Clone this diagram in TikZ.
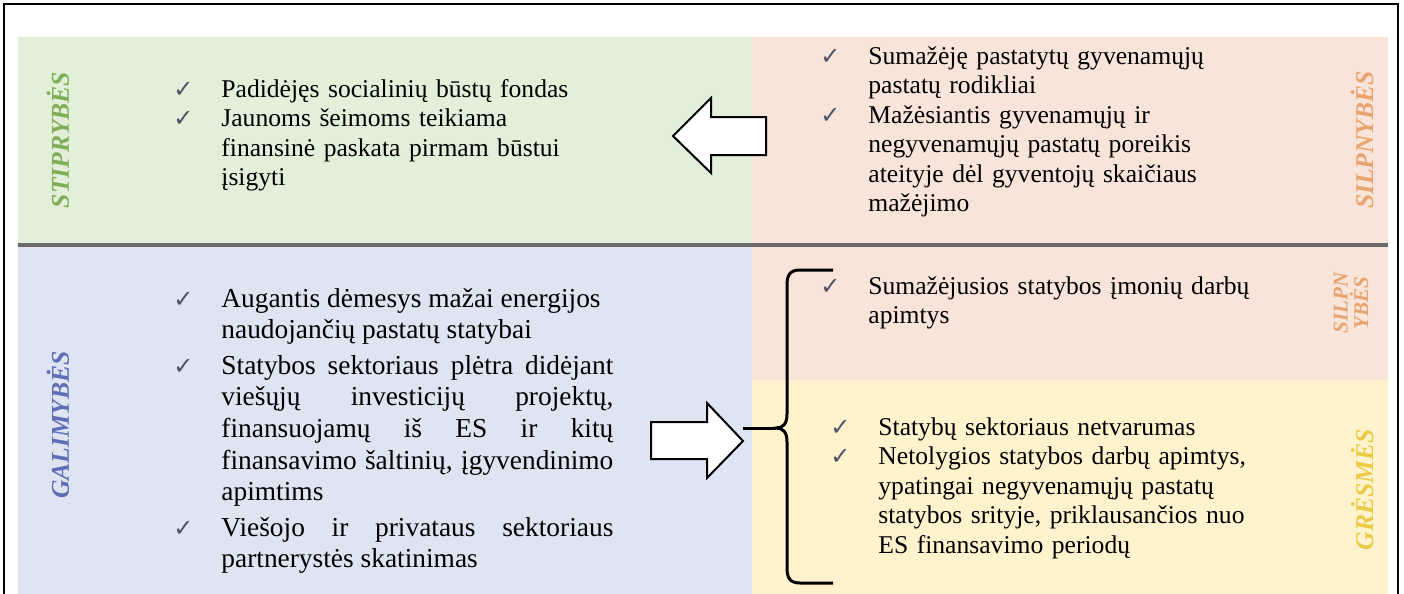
\documentclass[tikz,border=0pt]{standalone}
\usepackage{fontspec}
\setmainfont{Liberation Serif}
\newfontfamily\symfont{DejaVu Sans}
\usepackage{tikz}
\usetikzlibrary{positioning}
\usepackage{xcolor}
\definecolor{StrengthBg}{HTML}{E2EFD9}
\definecolor{WeakBg}{HTML}{F8E4D8}
\definecolor{ChanceBg}{HTML}{DFE4F2}
\definecolor{ThreatBg}{HTML}{FFF3CE}
\definecolor{StrengthText}{HTML}{7FAE56}
\definecolor{WeakText}{HTML}{E9A36F}
\definecolor{ChanceText}{HTML}{5F6DB5}
\definecolor{ThreatText}{HTML}{EBCB45}
\definecolor{SepGray}{HTML}{6B6B6B}
\definecolor{CheckGray}{HTML}{4D5468}
\newcommand{\chk}{{\symfont\fontsize{12}{12}\selectfont\color{CheckGray}✓}}
\newcommand{\itm}[1]{\noindent\hangindent=24pt\hangafter=1\makebox[24pt][l]{\chk}#1\par}

\begin{document}
\begin{tikzpicture}[x=0.5pt, y=-0.5pt,
  listbox/.style={anchor=base west, inner sep=0pt, font=\fontsize{12.8}{14.75}\selectfont, align=left},
  tag/.style={rotate=90, inner sep=0pt, align=center, font=\fontsize{12.8}{14}\selectfont\bfseries\itshape},
  blockarrow/.style={draw=black, line width=1pt, fill=white, line join=miter}]
  \useasboundingbox (0,0) rectangle (1404,594);
  % panels
  \fill[StrengthBg] (18,37) rectangle (752,243);
  \fill[WeakBg] (752,37) rectangle (1388,243);
  \fill[ChanceBg] (18,247) rectangle (752,594);
  \fill[WeakBg] (752,247) rectangle (1388,380);
  \fill[ThreatBg] (752,380) rectangle (1388,594);
  \draw[line width=2pt, SepGray] (18,245) -- (1388,245);
  \draw[line width=1.2pt] (4,594) -- (4,4) -- (1398,4) -- (1398,594);
  % side labels
  \node[tag, StrengthText] (stiprybes) at (58,140) {STIPRYBĖS};
  \node[tag, WeakText] (silpnybes) at (1362,140) {SILPNYBĖS};
  \node[tag, ChanceText] (galimybes) at (58,425) {GALIMYBĖS};
  \node[tag, WeakText, font=\fontsize{10.5}{9}\selectfont\bfseries\itshape] (silpnybesB) at (1351,303) {SILPN\\YBĖS};
  \node[tag, ThreatText] (gresmes) at (1362,490) {GRĖSMĖS};
  % lists
  \node[listbox, text width=230pt] (sList) at (173,97) {%
    \itm{Padidėjęs socialinių būstų fondas}
    \itm{Jaunoms šeimoms teikiama\newline finansinė paskata pirmam būstui\newline įsigyti}};
  \node[listbox, text width=240pt] (wList) at (820,64) {%
    \itm{Sumažėję pastatytų gyvenamųjų\newline pastatų rodikliai}
    \itm{Mažėsiantis gyvenamųjų ir\newline negyvenamųjų pastatų poreikis\newline ateityje dėl gyventojų skaičiaus\newline mažėjimo}};
  \node[listbox, text width=220pt, align=justify, font=\fontsize{13.7}{15.8}\selectfont] (oList) at (173,307) {%
    \setlength{\parskip}{2pt}%
    \itm{Augantis dėmesys mažai energijos\newline naudojančių pastatų statybai}
    \itm{Statybos sektoriaus plėtra didėjant\linebreak viešųjų investicijų projektų,\linebreak finansuojamų iš ES ir kitų\linebreak finansavimo šaltinių, įgyvendinimo\linebreak apimtims}
    \itm{Viešojo ir privataus sektoriaus\linebreak partnerystės skatinimas}};
  \node[listbox, text width=240pt] (wListB) at (820,294) {%
    \itm{Sumažėjusios statybos įmonių darbų\newline apimtys}};
  \node[listbox, text width=240pt] (tList) at (830,435) {%
    \itm{Statybų sektoriaus netvarumas}
    \itm{Netolygios statybos darbų apimtys,\newline ypatingai negyvenamųjų pastatų\newline statybos srityje, priklausančios nuo\newline ES finansavimo periodų}};
  % arrows
  \draw[blockarrow] (673,136) -- (711,98) -- (711,117) -- (766,117) -- (766,155) -- (711,155) -- (711,173) -- cycle;
  \draw[blockarrow] (651,422) -- (707,422) -- (707,403) -- (743,441) -- (707,478) -- (707,459) -- (651,459) -- cycle;
  \coordinate (oTip) at (743,428);
  \coordinate (cusp) at (776,428);
  \draw[line width=1.5pt] (oTip) -- (cusp);
  \draw[line width=1.5pt] (833,270) -- (800,270) .. controls (790,270) and (787,275) .. (787,285) -- (787,414)
    .. controls (787,424) and (783,428) .. (cusp) .. controls (783,428) and (787,432) .. (787,442) -- (787,568)
    .. controls (787,578) and (790,583) .. (800,583) -- (833,583);
\end{tikzpicture}
\end{document}
